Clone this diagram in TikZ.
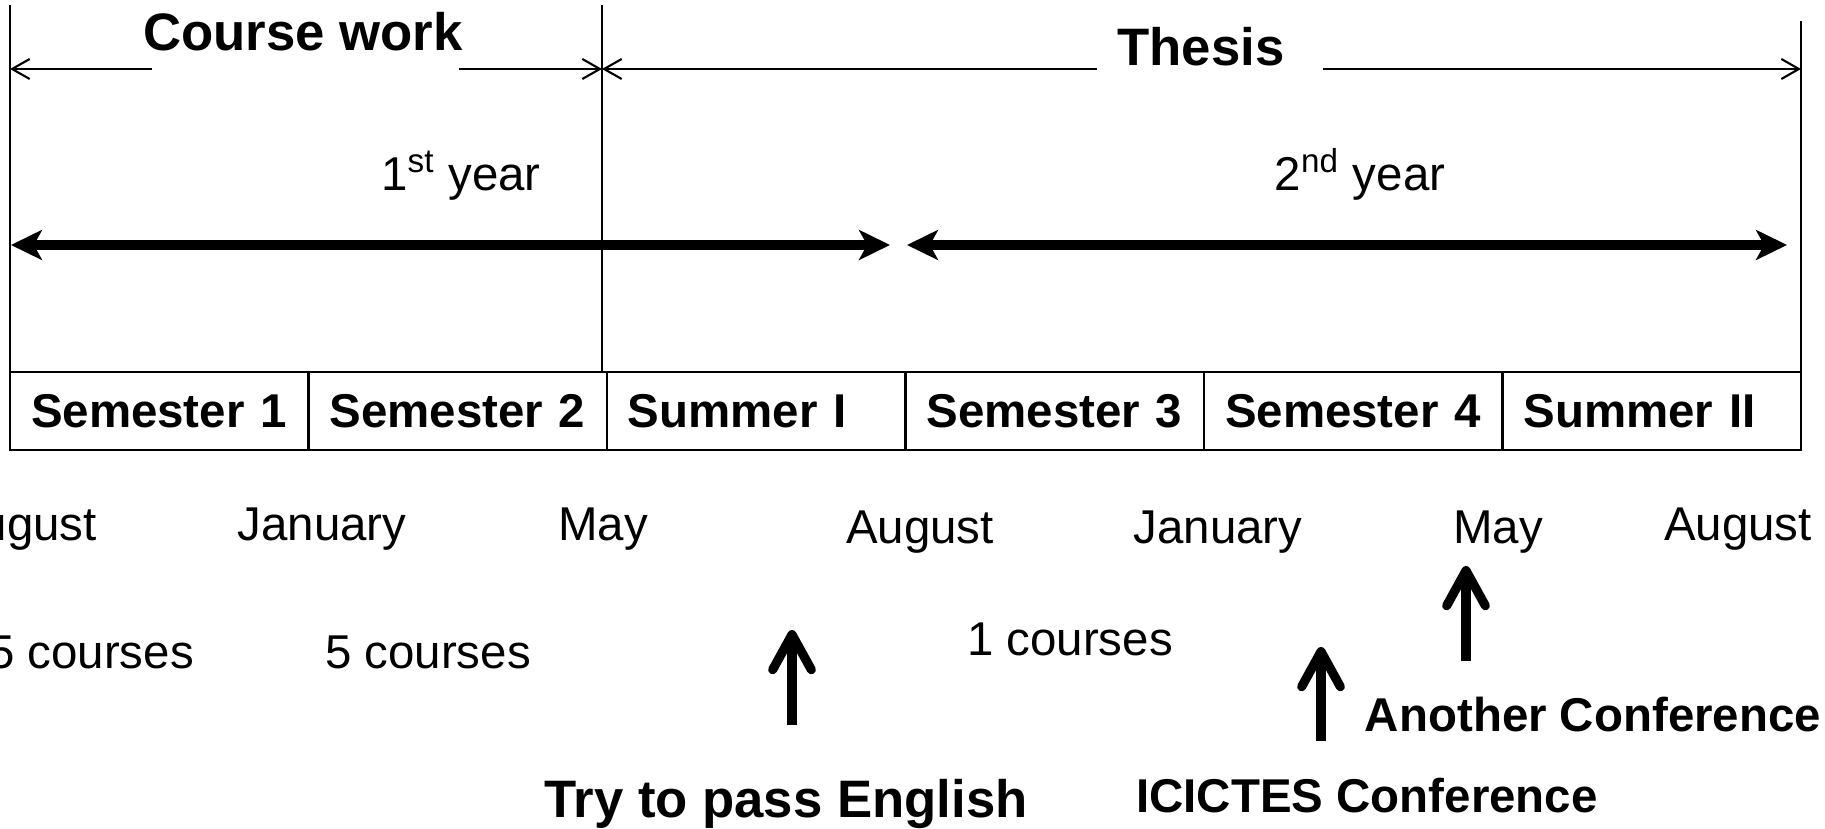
\documentclass[tikz,border=0pt]{standalone}
\usepackage{fontspec}
\setmainfont{Liberation Sans}
\usepackage{tikz}
\usetikzlibrary{arrows.meta, positioning}

\begin{document}
\begin{tikzpicture}[x=0.1mm, y=-0.1mm,
  txt/.style={anchor=base, inner sep=0pt, font=\fontsize{13.5}{16}\selectfont},
  head/.style={anchor=base, inner sep=0pt, font=\fontsize{15}{18}\selectfont\bfseries},
  cell/.style={draw, line width=0.6pt, outer sep=0pt, minimum width=29.85mm, minimum height=7.8mm,
    inner xsep=2.1mm, text width=25.65mm, align=left, font=\fontsize{13.5}{16}\selectfont\bfseries},
  span/.style={line width=0.6pt, -{Straight Barb[length=5pt, width=5.7pt]}},
  year/.style={line width=2.85pt, {Stealth[length=8.8pt, width=8.5pt, inset=2.3pt]}-{Stealth[length=8.8pt, width=8.5pt, inset=2.3pt]}},
  event/.style={line width=2.6pt, -{Straight Barb[length=10pt, width=11pt, round]}}]

  \useasboundingbox (0,0) rectangle (1825,829);

  % semesters
  \node[cell, anchor=north west] (s1) at (10,372) {Semester 1};
  \node[cell, right=0pt of s1] (s2) {Semester 2};
  \node[cell, right=0pt of s2] (s3) {Summer I};
  \node[cell, right=0pt of s3] (s4) {Semester 3};
  \node[cell, right=0pt of s4] (s5) {Semester 4};
  \node[cell, right=0pt of s5] (s6) {Summer II};

  % course work / thesis
  \coordinate (tl) at (10,5);
  \coordinate (tm) at (602,5);
  \coordinate (tr) at (1801,21);
  \draw[line width=0.6pt] (tl) -- (tl |- s1.north);
  \draw[line width=0.6pt] (tm) -- (tm |- s1.north);
  \draw[line width=0.6pt] (tr) -- (tr |- s1.north);

  \node[head] (cw) at (303,51) {Course work};
  \node[head] (th) at (1201,66) {Thesis};
  \coordinate (cwa) at (152,69);
  \coordinate (cwb) at (459,69);
  \coordinate (tha) at (1097,69);
  \coordinate (thb) at (1323,69);
  \draw[span] (cwa) -- (tl |- cwa);
  \draw[span] (cwb) -- (tm |- cwb);
  \draw[span] (tha) -- (tm |- tha);
  \draw[span] (thb) -- (tr |- thb);

  % years
  \node[txt] (y1) at (461,191) {1\textsuperscript{st} year};
  \node[txt] (y2) at (1360,191) {2\textsuperscript{nd} year};
  \coordinate (ya) at (11,245);
  \coordinate (yb) at (890,245);
  \coordinate (yc) at (907,245);
  \coordinate (yd) at (1787,245);
  \draw[year] (ya) -- (yb);
  \draw[year] (yc) -- (yd);

  % months
  \foreach \name/\x/\y/\month in {m1/23/541/August, m2/322/541/January, m3/603/541/May,
      m4/920/544/August, m5/1218/544/January, m6/1498/544/May, m7/1738/541/August}
    \node[txt] (\name) at (\x,\y) {\month};

  \node[txt] (c1) at (91,669) {5 courses};
  \node[txt] (c2) at (428,669) {5 courses};
  \node[txt] (c3) at (1070,656) {1 courses};

  % events
  \node[head] (e1) at (786,818) {Try to pass English};
  \node[txt, font=\fontsize{13.5}{16}\selectfont\bfseries] (e2) at (1367,813) {ICICTES Conference};
  \node[txt, font=\fontsize{13.5}{16}\selectfont\bfseries] (e3) at (1593,732) {Another Conference};
  \coordinate (a1) at (792,725);
  \coordinate (a2) at (1321,741);
  \coordinate (a3) at (1466,661);
  \draw[event] (a1) -- ++(0,-95);
  \draw[event] (a2) -- ++(0,-94);
  \draw[event] (a3) -- ++(0,-95);
\end{tikzpicture}
\end{document}
